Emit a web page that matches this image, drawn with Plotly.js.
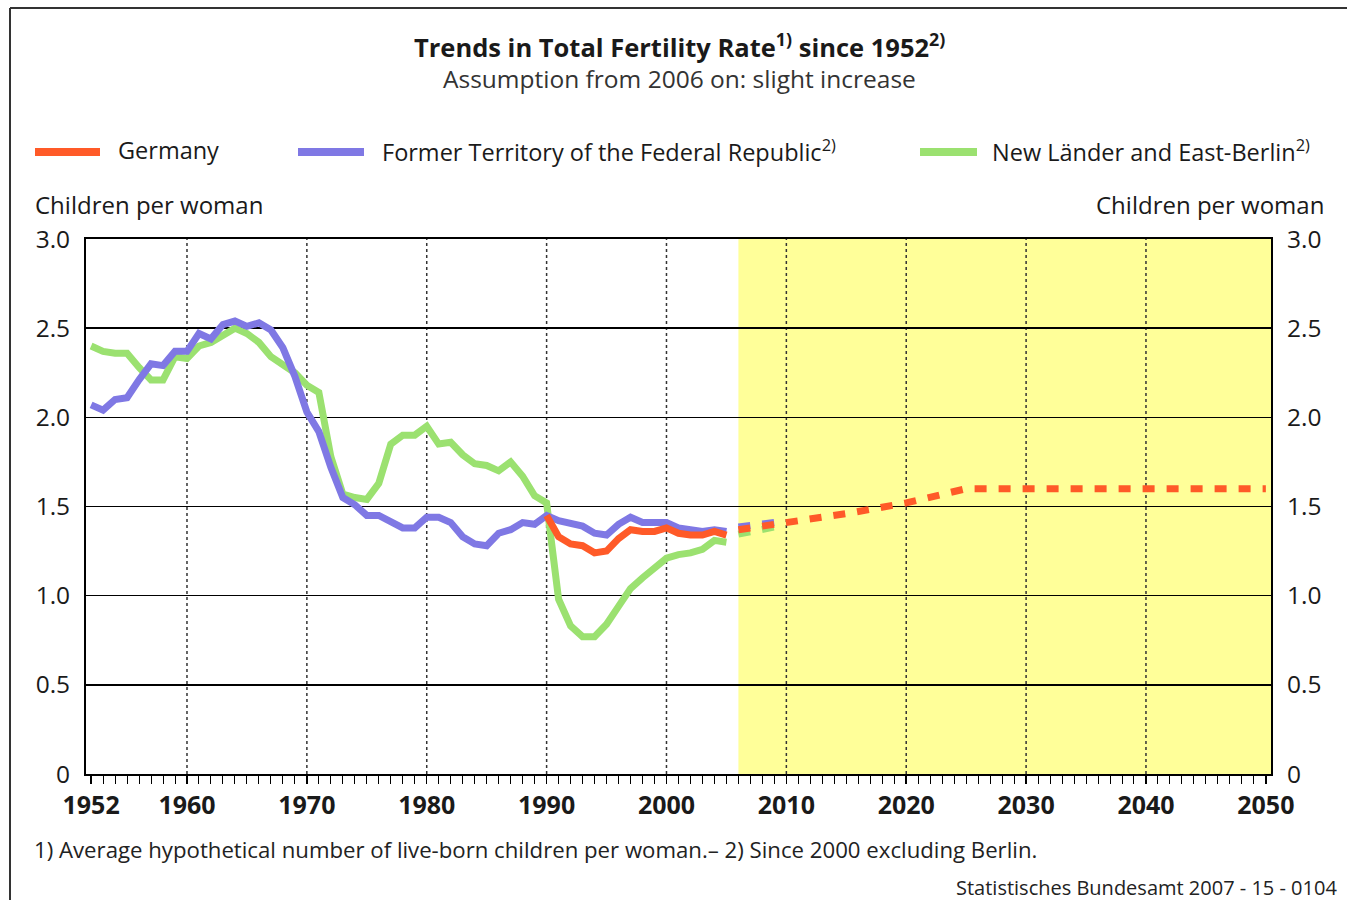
<!DOCTYPE html>
<html><head><meta charset="utf-8">
<script src="https://cdn.plot.ly/plotly-3.0.1.min.js"></script>
<style>html,body{margin:0;padding:0;background:#fff}#chart{width:1347px;height:900px}</style>
</head><body><div id="chart"></div>
<script>
// ---- data ----
const yearsHist = [1952,1953,1954,1955,1956,1957,1958,1959,1960,1961,1962,1963,1964,1965,1966,1967,1968,1969,1970,1971,1972,1973,1974,1975,1976,1977,1978,1979,1980,1981,1982,1983,1984,1985,1986,1987,1988,1989,1990,1991,1992,1993,1994,1995,1996,1997,1998,1999,2000,2001,2002,2003,2004,2005];
const formerFRG = [2.07,2.04,2.10,2.11,2.21,2.30,2.29,2.37,2.37,2.47,2.44,2.52,2.54,2.51,2.53,2.49,2.39,2.23,2.03,1.92,1.72,1.55,1.51,1.45,1.45,1.41,1.38,1.38,1.44,1.44,1.41,1.33,1.29,1.28,1.35,1.37,1.41,1.40,1.45,1.42,1.40,1.39,1.35,1.34,1.40,1.44,1.41,1.41,1.41,1.38,1.37,1.36,1.37,1.36];
const newLaender = [2.40,2.37,2.36,2.36,2.28,2.21,2.21,2.34,2.33,2.40,2.42,2.46,2.50,2.47,2.42,2.34,2.29,2.25,2.18,2.14,1.78,1.57,1.55,1.54,1.63,1.85,1.90,1.90,1.95,1.85,1.86,1.79,1.74,1.73,1.70,1.75,1.67,1.56,1.52,0.98,0.83,0.77,0.77,0.84,0.94,1.04,1.10,1.15,1.21,1.23,1.24,1.26,1.31,1.30];
const yearsGermany = [1990,1991,1992,1993,1994,1995,1996,1997,1998,1999,2000,2001,2002,2003,2004,2005];
const germany = [1.45,1.33,1.29,1.28,1.24,1.25,1.32,1.37,1.36,1.36,1.38,1.35,1.34,1.34,1.36,1.34];
const yearsProj = [2006,2010,2015,2020,2025,2030,2040,2050];
const germanyProj = [1.37,1.41,1.46,1.52,1.60,1.60,1.60,1.60];
const yearsProjShort = [2006,2009];
const formerProj = [1.385,1.41];
const newProj = [1.345,1.385];
const projectionStart = 2006;
const xTickVals = [1952,1960,1970,1980,1990,2000,2010,2020,2030,2040,2050];
const xTickText = ['1952','1960','1970','1980','1990','2000','2010','2020','2030','2040','2050'];
const yTickVals = [0,0.5,1.0,1.5,2.0,2.5,3.0];
const yTickText = ['0','0.5','1.0','1.5','2.0','2.5','3.0'];
const seriesNames = ['Germany','Former Territory of the Federal Republic<sup>2)</sup>','New Länder and East-Berlin<sup>2)</sup>'];

// ---- style ----
const C_RED = '#FF5A28', C_BLUE = '#7F78E4', C_GREEN = '#9BE170';
const FONT = 'Open Sans, Noto Sans, sans-serif';
const TXT = '#1a1a1a';
const DASH = '12px,12px';
const LW = 7;

const traces = [
  {x: yearsHist, y: newLaender, type:'scatter', mode:'lines', line:{color:C_GREEN, width:LW}, name:seriesNames[2], showlegend:false},
  {x: yearsProjShort, y: newProj, type:'scatter', mode:'lines', line:{color:C_GREEN, width:LW, dash:DASH}, showlegend:false},
  {x: yearsHist, y: formerFRG, type:'scatter', mode:'lines', line:{color:C_BLUE, width:LW}, name:seriesNames[1], showlegend:false},
  {x: yearsProjShort, y: formerProj, type:'scatter', mode:'lines', line:{color:C_BLUE, width:LW, dash:DASH}, showlegend:false},
  {x: yearsGermany, y: germany, type:'scatter', mode:'lines', line:{color:C_RED, width:LW}, name:seriesNames[0], showlegend:false},
  {x: yearsProj, y: germanyProj, type:'scatter', mode:'lines', line:{color:C_RED, width:LW, dash:DASH}, showlegend:false, yaxis:'y2'}
];

const L = 86, R = 1271, T = 239, B = 774;
const W = R - L, H = B - T;
const px = v => (v - L) / W;
const py = v => (B - v) / H;

const shapes = [];
// projection background
shapes.push({type:'rect', xref:'x', yref:'paper', x0:projectionStart, x1:2050.43, y0:0, y1:1, fillcolor:'#FFFF99', line:{width:0}, layer:'below'});
// dotted vertical grid
xTickVals.slice(1, -1).forEach(v => shapes.push({type:'line', xref:'x', yref:'paper', x0:v, x1:v, y0:0, y1:1, line:{color:'#333', width:1.5, dash:'dot'}, layer:'below'}));
// frame
shapes.push({type:'line', xref:'paper', yref:'paper', x0:px(10), x1:px(1347), y0:py(8), y1:py(8), line:{color:'#333', width:2}});
shapes.push({type:'line', xref:'paper', yref:'paper', x0:px(10), x1:px(10), y0:py(8), y1:py(900), line:{color:'#333', width:2}});
// legend swatches
const legendItems = [
  {name:seriesNames[0], color:C_RED, x0:35, x1:100, tx:116},
  {name:seriesNames[1], color:C_BLUE, x0:298, x1:364, tx:380},
  {name:seriesNames[2], color:C_GREEN, x0:920, x1:977, tx:990}
];
const annotations = [];
legendItems.forEach(it => {
  shapes.push({type:'line', xref:'paper', yref:'paper', x0:px(it.x0), x1:px(it.x1), y0:py(152), y1:py(152), line:{color:it.color, width:8}});
  annotations.push({xref:'paper', yref:'paper', x:px(it.tx), y:py(150), xanchor:'left', yanchor:'middle', text:it.name, showarrow:false, font:{family:FONT, size:23.5, color:TXT}});
});
annotations.push({xref:'paper', yref:'paper', x:px(679), y:py(45), xanchor:'center', yanchor:'middle', showarrow:false,
  text:'<b>Trends in Total Fertility Rate<sup>1)</sup> since 1952<sup>2)</sup></b>', font:{family:FONT, size:25.5, color:TXT}});
annotations.push({xref:'paper', yref:'paper', x:px(679), y:py(79), xanchor:'center', yanchor:'middle', showarrow:false,
  text:'Assumption from 2006 on: slight increase', font:{family:FONT, size:24.5, color:'#333'}});
annotations.push({xref:'paper', yref:'paper', x:px(33), y:py(205), xanchor:'left', yanchor:'middle', showarrow:false,
  text:'Children per woman', font:{family:FONT, size:24, color:TXT}});
annotations.push({xref:'paper', yref:'paper', x:px(1326), y:py(205), xanchor:'right', yanchor:'middle', showarrow:false,
  text:'Children per woman', font:{family:FONT, size:24, color:TXT}});
annotations.push({xref:'paper', yref:'paper', x:px(32), y:py(849), xanchor:'left', yanchor:'middle', showarrow:false,
  text:'1) Average hypothetical number of live-born children per woman.– 2) Since 2000 excluding Berlin.', font:{family:FONT, size:22.2, color:'#222'}});
annotations.push({xref:'paper', yref:'paper', x:px(1339), y:py(888), xanchor:'right', yanchor:'middle', showarrow:false,
  text:'Statistisches Bundesamt 2007 - 15 - 0104', font:{family:FONT, size:20, color:'#222'}});

const layout = {
  width:1347, height:900,
  margin:{l:L, r:1347-R, t:T, b:900-B, pad:0},
  paper_bgcolor:'#fff', plot_bgcolor:'#fff',
  showlegend:false,
  font:{family:FONT, color:TXT},
  xaxis:{range:[1951.575, 2050.43], tickmode:'array', tickvals:xTickVals, ticktext:xTickText,
    ticks:'outside', ticklen:8, tickwidth:1.5, tickcolor:'#000',
    minor:{tick0:1952, dtick:1, ticks:'outside', ticklen:8, tickwidth:1, tickcolor:'#000', showgrid:false},
    showgrid:false, zeroline:false, showline:true, linecolor:'#000', linewidth:2, mirror:true,
    tickfont:{family:FONT, size:25, color:TXT, weight:'bold'}, ticklabelstandoff:0, fixedrange:true},
  yaxis:{range:[0,3], tickmode:'array', tickvals:yTickVals, ticktext:yTickText, ticks:'',
    showgrid:true, gridcolor:'#000', gridwidth:1.5, zeroline:false, showline:true, linecolor:'#000', linewidth:2, mirror:true,
    tickfont:{family:FONT, size:24.5, color:TXT}, ticklabelstandoff:9, fixedrange:true},
  yaxis2:{range:[0,3], overlaying:'y', side:'right', anchor:'x', tickmode:'array', tickvals:yTickVals, ticktext:yTickText, ticks:'',
    showgrid:false, zeroline:false, showline:false, tickfont:{family:FONT, size:24.5, color:TXT}, ticklabelstandoff:15, fixedrange:true},
  shapes:shapes, annotations:annotations
};
Plotly.newPlot('chart', traces, layout, {displayModeBar:false, staticPlot:true});
</script></body></html>
